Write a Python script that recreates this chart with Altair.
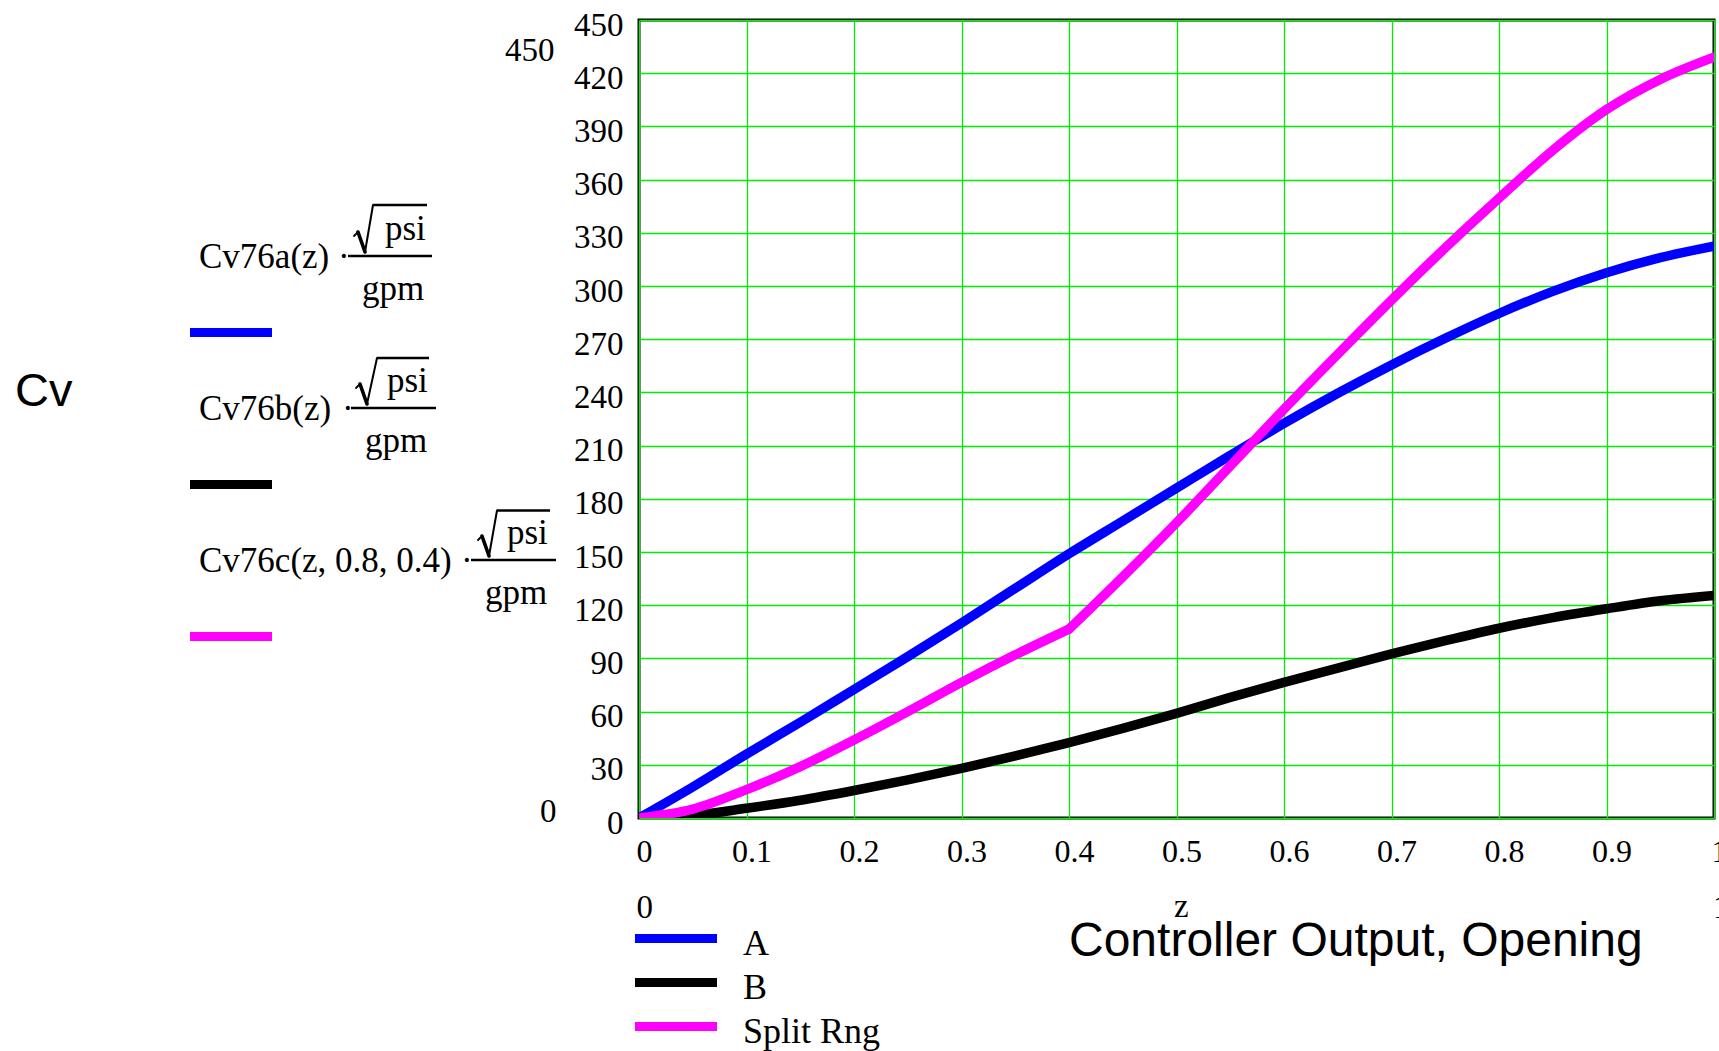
import altair as alt
import pandas as pd

# ---------------- data ----------------
z = [0.0, 0.05, 0.1, 0.15, 0.2, 0.25, 0.3, 0.35, 0.4, 0.45, 0.5,
     0.55, 0.6, 0.65, 0.7, 0.75, 0.8, 0.85, 0.9, 0.95, 1.0]
cv_a = [0, 17.5, 36, 54, 72.5, 91, 110, 129.5, 149, 167.5, 186,
        204.5, 222.5, 239.5, 255.5, 270.5, 284.5, 297, 307.5, 316, 322.5]
cv_b = [0, 1.5, 5.5, 10, 15.5, 21.5, 28, 35, 42.5, 50.5, 59,
        68, 76.5, 84.5, 92.5, 100, 107, 113, 118, 122.5, 125.5]
cv_c = [0, 5, 16, 29, 44, 60, 76.5, 92, 106.5, 136, 166.5,
        198.5, 230.5, 261.5, 292, 321.5, 349.5, 376.5, 399.5, 416.5, 429]
split_break = 0.4  # split-range breakpoint (kink of the Split Rng trace)
series_names = ["A", "B", "Split Rng"]
series_colors = ["#0000ff", "#000000", "#ff00ff"]
x_ticks = [0, 0.1, 0.2, 0.3, 0.4, 0.5, 0.6, 0.7, 0.8, 0.9, 1]
y_ticks = [0, 30, 60, 90, 120, 150, 180, 210, 240, 270, 300, 330, 360, 390, 420, 450]
trace_names = ["Cv76a(z)", "Cv76b(z)", "Cv76c(z, 0.8, 0.4)"]

rows = []
for name, vals in zip(series_names, [cv_a, cv_b, cv_c]):
    for zz, v in zip(z, vals):
        if name == "Split Rng":
            if zz <= split_break:
                rows.append({"z": zz, "cv": v, "series": name, "seg": name + "1"})
            if zz >= split_break:
                rows.append({"z": zz, "cv": v, "series": name, "seg": name + "2"})
        else:
            rows.append({"z": zz, "cv": v, "series": name, "seg": name})
df = pd.DataFrame(rows)

# ---------------- layout ----------------
PL, PT, PR, PB = 639, 20, 5, 233
W, H = 1719 - PL - PR, 1051 - PT - PB
SERIF = "Liberation Serif"
SANS = "Liberation Sans"
one = pd.DataFrame({"k": [0]})


def txt(s, px, py, size, font=SERIF, align="left", baseline="alphabetic"):
    return alt.Chart(one).mark_text(
        text=s, font=font, fontSize=size, align=align, baseline=baseline, color="black"
    ).encode(x=alt.value(px - PL), y=alt.value(py - PT))


def hrule(x1, x2, y, color, width):
    return alt.Chart(one).mark_rule(color=color, strokeWidth=width).encode(
        x=alt.value(x1 - PL), x2=alt.value(x2 - PL), y=alt.value(y - PT)
    )


def seg(x1, y1, x2, y2, width):
    return alt.Chart(one).mark_rule(color="black", strokeWidth=width, strokeCap="round").encode(
        x=alt.value(x1 - PL), x2=alt.value(x2 - PL),
        y=alt.value(y1 - PT), y2=alt.value(y2 - PT)
    )


axis_common = dict(
    title=None, grid=True, gridColor="#00ee00", gridWidth=1.3, gridOpacity=1,
    domain=False, ticks=False, tickSize=0, labelFont=SERIF, labelFlush=False,
    labelOverlap=False, labelColor="black",
)

lines = alt.Chart(df).mark_line(
    strokeWidth=9.5, strokeJoin="round", strokeCap="round", interpolate="monotone", clip=True
).encode(
    x=alt.X(
        "z:Q",
        scale=alt.Scale(domain=[0, 1], nice=False, zero=False),
        axis=alt.Axis(values=x_ticks, format="~g", labelFontSize=32, labelPadding=18,
                      labelOffset=5, labelBaseline="top", **axis_common),
    ),
    y=alt.Y(
        "cv:Q",
        scale=alt.Scale(domain=[0, 450], nice=False),
        axis=alt.Axis(values=y_ticks, format="d", labelFontSize=33, labelPadding=16,
                      labelOffset=5, labelBaseline="middle", **axis_common),
    ),
    color=alt.Color("series:N", scale=alt.Scale(domain=series_names, range=series_colors), legend=None),
    detail="seg:N",
)

layers = [lines]

# axis-side texts
layers += [
    txt("Cv", 15, 406, 47, font=SANS),
    txt("Controller Output, Opening", 1069, 956, 48, font=SANS),
    txt("450", 505, 60.5, 33),
    txt("0", 540, 821.5, 33),
    txt("0", 636.5, 918, 33),
    txt("z", 1174, 917, 33),
    txt("1", 1713, 918, 33),
]

# left trace legend (Mathcad style)
blocks = [
    # dot_x, bar_x1, bar_x2, bar_y, rad_x, ob_x1, ob_x2, ob_y, psi_x, gpm_x
    (338, 348, 432, 256, 354, 373, 427, 205, 385, 362),
    (342, 351, 436, 408, 356, 377, 429, 358, 387, 365),
    (461, 471, 556, 560, 478, 497, 550, 510.5, 507, 485),
]
for (dx, bx1, bx2, by, rx, ox1, ox2, oy, px, gx), name, color in zip(blocks, trace_names, series_colors):
    layers += [
        txt(name, 199, by + 12, 35),
        txt("\u00b7", dx, by + 12, 35),
        hrule(bx1, bx2, by, "black", 2.5),
        # radical sign
        seg(rx, by - 20, rx + 4, by - 24, 1.8),
        seg(rx + 4, by - 24, rx + 11, by - 4, 3.6),
        seg(rx + 11, by - 4, ox1, oy, 2.0),
        hrule(ox1, ox2, oy, "black", 2.5),
        txt("psi", px, by - 16, 35),
        txt("gpm", gx, by + 44, 35),
        hrule(190, 272, by + 76.5, color, 9),
    ]

# bottom legend
for name, color, ly in zip(series_names, series_colors, [938.5, 982.5, 1026.5]):
    layers += [
        hrule(635, 717, ly, color, 9),
        txt(name, 743, ly + 16.5, 36),
    ]

chart = alt.layer(*layers).properties(
    width=W, height=H,
    autosize=alt.AutoSizeParams(type="none"),
    padding={"left": PL, "top": PT, "right": PR, "bottom": PB},
).configure_view(stroke="black", strokeWidth=3)

chart.save("out.html", embed_options={"renderer": "svg", "actions": False})
